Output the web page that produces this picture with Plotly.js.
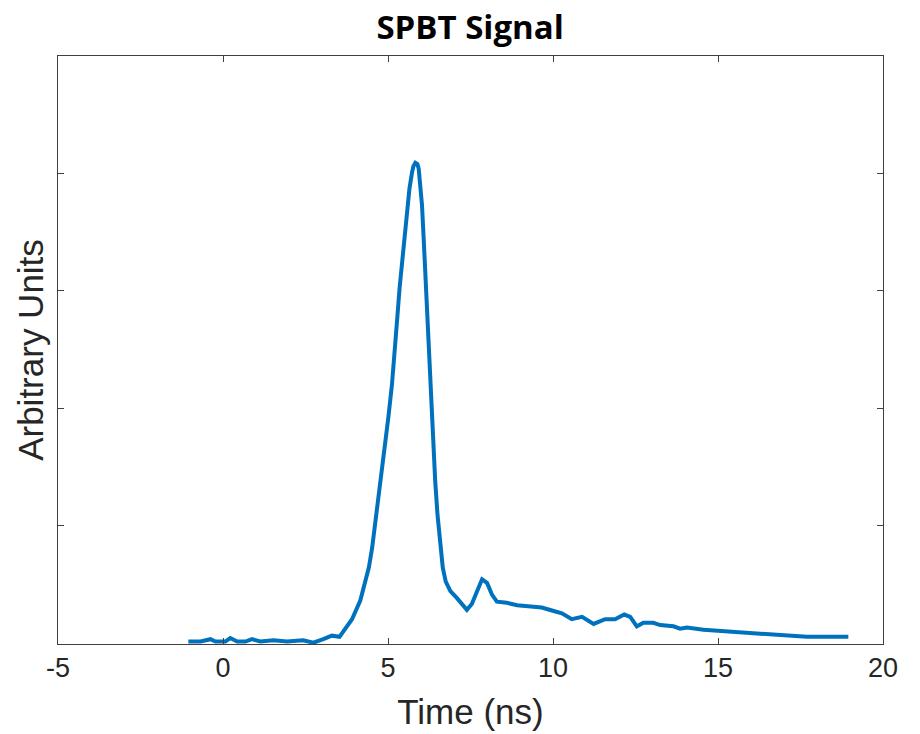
<!DOCTYPE html>
<html>
<head>
<meta charset="utf-8">
<script src="https://cdn.plot.ly/plotly-3.0.1.min.js"></script>
<style>html,body{margin:0;padding:0;background:#fff;}#chart{width:920px;height:734px;}</style>
</head>
<body>
<div id="chart"></div>
<script>
var timeNs = [-1.05,-0.68,-0.38,-0.23,0.07,0.22,0.43,0.68,0.88,1.13,1.53,1.94,2.43,2.74,3.04,3.30,3.53,3.65,3.91,4.16,4.30,4.42,4.52,4.64,4.76,4.88,5.01,5.12,5.21,5.29,5.35,5.40,5.45,5.49,5.55,5.59,5.65,5.73,5.77,5.83,5.89,5.93,5.98,6.03,6.08,6.13,6.18,6.20,6.23,6.28,6.33,6.39,6.43,6.50,6.59,6.66,6.75,6.89,7.09,7.24,7.39,7.54,7.70,7.85,8.00,8.15,8.30,8.60,8.91,9.51,9.66,10.02,10.27,10.57,10.88,11.23,11.58,11.88,12.16,12.34,12.54,12.74,13.04,13.25,13.65,13.85,14.06,14.56,15.06,15.57,16.27,16.88,17.69,18.39,18.80,18.95];
var signal = [0.01,0.01,0.03,0.01,0.01,0.04,0.01,0.01,0.03,0.01,0.02,0.01,0.02,0.0,0.03,0.06,0.05,0.10,0.20,0.36,0.50,0.64,0.81,1.07,1.36,1.64,1.92,2.20,2.48,2.80,3.02,3.16,3.30,3.44,3.59,3.73,3.87,4.01,4.06,4.09,4.08,4.04,3.87,3.73,3.45,3.16,2.88,2.65,2.48,2.20,1.92,1.63,1.38,1.09,0.81,0.64,0.52,0.44,0.38,0.33,0.28,0.33,0.44,0.54,0.51,0.41,0.35,0.34,0.32,0.31,0.30,0.27,0.25,0.20,0.22,0.16,0.20,0.20,0.24,0.22,0.14,0.17,0.17,0.15,0.14,0.12,0.13,0.11,0.10,0.09,0.08,0.07,0.05,0.05,0.05,0.05];
var xTicks = [-5,0,5,10,15,20];
var xTickLabels = ['-5','0','5','10','15','20'];
var yTicks = [1,2,3,4];

var trace = {
  x: timeNs, y: signal, type: 'scatter', mode: 'lines',
  line: {color: '#0072BD', width: 4},
  hoverinfo: 'skip'
};
var axisCommon = {
  showgrid: false, zeroline: false, showline: true, linecolor: '#404040', linewidth: 1,
  mirror: 'ticks', ticks: 'inside', ticklen: 6, tickcolor: '#404040', tickwidth: 1
};
var layout = {
  width: 920, height: 734,
  margin: {l: 57.5, r: 37, t: 56, b: 90, pad: 0},
  paper_bgcolor: '#fff', plot_bgcolor: '#fff',
  showlegend: false,
  title: {text: '<b>SPBT Signal</b>', x: 0.511, xanchor: 'center', y: 0.962, yanchor: 'middle',
    font: {family: 'Open Sans, sans-serif', size: 33, color: '#000'}},
  xaxis: Object.assign({}, axisCommon, {
    range: [-5, 20], tickmode: 'array', tickvals: xTicks, ticktext: xTickLabels,
    tickfont: {family: 'Liberation Sans, Arial, sans-serif', size: 27, color: '#262626'},
    title: {text: 'Time (ns)', standoff: 17, font: {family: 'Liberation Sans, Arial, sans-serif', size: 35, color: '#262626'}}
  }),
  yaxis: Object.assign({}, axisCommon, {
    range: [-0.011, 5.0], tickmode: 'array', tickvals: yTicks, showticklabels: false,
    title: {text: 'Arbitrary Units', standoff: 2, font: {family: 'Liberation Sans, Arial, sans-serif', size: 35, color: '#262626'}}
  })
};
Plotly.newPlot('chart', [trace], layout, {displayModeBar: false, staticPlot: true});
</script>
</body>
</html>
